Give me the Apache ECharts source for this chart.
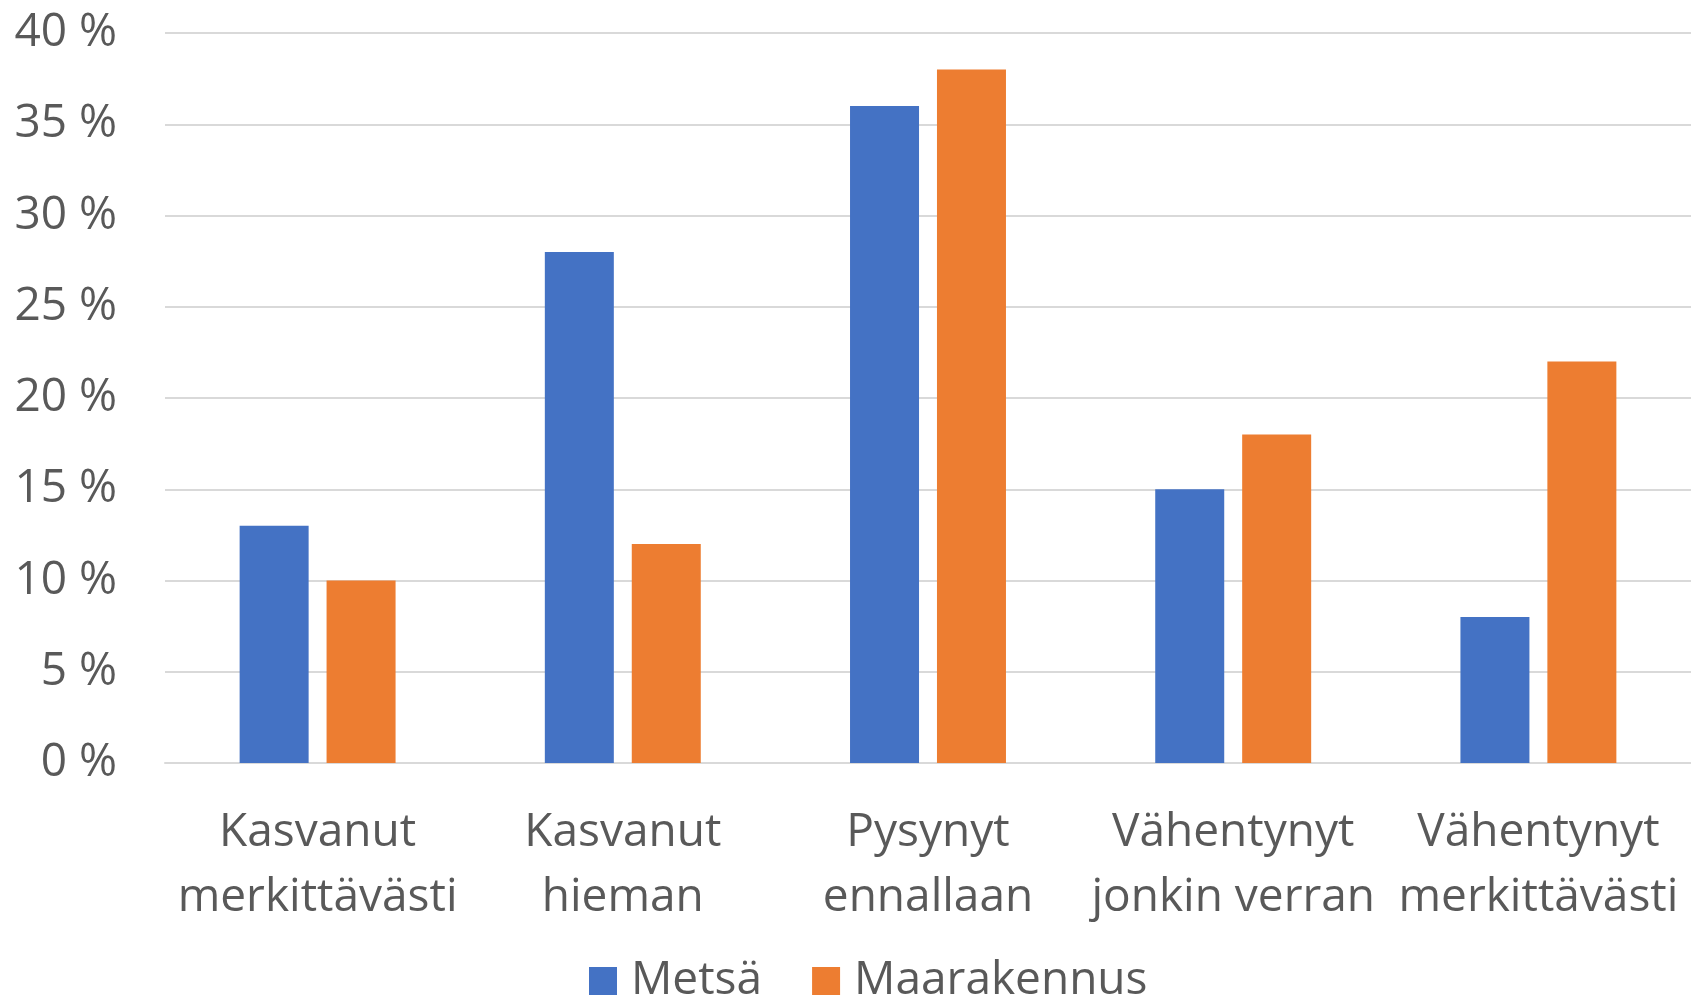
<!DOCTYPE html>
<html>
<head>
<meta charset="utf-8">
<script src="https://cdn.jsdelivr.net/npm/echarts@6/dist/echarts.min.js"></script>
<style>
html,body{margin:0;padding:0;background:#fff;}
#chart{width:1691px;height:997px;}
</style>
</head>
<body>
<div id="chart"></div>
<script>
const categories = ["Kasvanut\nmerkittävästi", "Kasvanut\nhieman", "Pysynyt\nennallaan", "Vähentynyt\njonkin verran", "Vähentynyt\nmerkittävästi"];
const metsa = [13, 28, 36, 15, 8];
const maarakennus = [10, 12, 38, 18, 22];
const seriesNames = ["Metsä", "Maarakennus"];

const FONT = "'Open Sans', 'Noto Sans', sans-serif";
const TEXT = "#595959";
const chart = echarts.init(document.getElementById('chart'), null, {renderer: 'canvas'});
chart.setOption({
  animation: false,
  backgroundColor: '#ffffff',
  grid: {left: 165, right: 0, top: 33, bottom: 234, containLabel: false},
  legend: {
    data: seriesNames,
    bottom: -12,
    left: 584,
    itemWidth: 28,
    itemHeight: 28,
    itemGap: 50,
    icon: 'rect',
    textStyle: {fontFamily: FONT, fontSize: 46, color: TEXT, padding: [0, 0, 0, 9]},
  },
  xAxis: {
    type: 'category',
    data: categories,
    axisTick: {show: false},
    axisLine: {show: true, lineStyle: {color: '#d9d9d9', width: 2}},
    axisLabel: {interval: 0, margin: 37, fontFamily: FONT, fontSize: 46, color: TEXT, lineHeight: 65}
  },
  yAxis: {
    type: 'value',
    min: 0, max: 40, interval: 5,
    axisLine: {show: false},
    axisTick: {show: false},
    splitLine: {lineStyle: {color: '#d9d9d9', width: 2}},
    axisLabel: {margin: 48, fontFamily: FONT, fontSize: 46, color: TEXT, formatter: v => v + ' %'}
  },
  series: [
    {name: seriesNames[0], type: 'bar', data: metsa, barWidth: 69, barGap: '26%', itemStyle: {color: '#4472C4'}},
    {name: seriesNames[1], type: 'bar', data: maarakennus, barWidth: 69, barGap: '26%', itemStyle: {color: '#ED7D31'}}
  ]
});
</script>
</body>
</html>
